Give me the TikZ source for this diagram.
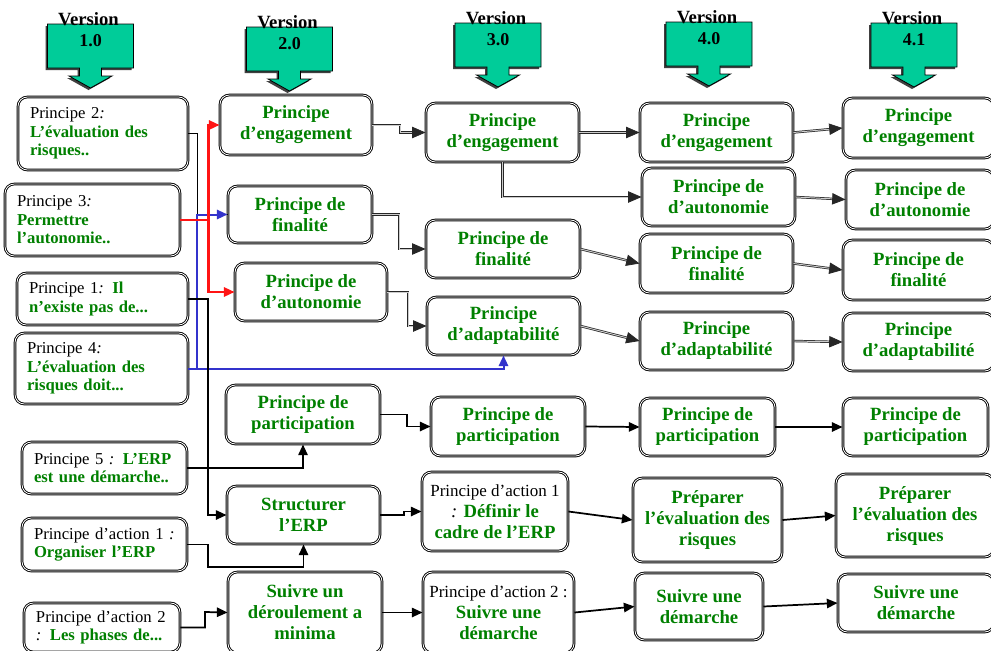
\documentclass[tikz,border=0pt]{standalone}
\usepackage{fontspec}
\setmainfont{Liberation Serif}
\usetikzlibrary{arrows.meta}

\definecolor{callout}{RGB}{0,204,153}
\definecolor{tgreen}{RGB}{0,128,0}
\definecolor{rline}{RGB}{255,20,20}
\definecolor{bline}{RGB}{51,51,204}

% black, upright, medium-weight part of a label
\newcommand\blk[1]{{\color{black}\mdseries #1}}

% box given by its corners in pixel units: name, style, x1, y1, x2, y2, text
\newcommand\place[7]{%
  \node[#2, minimum width={(#5-#3)*0.75pt}, minimum height={(#6-#4)*0.75pt}]
    (#1) at ({(#3+#5)/2},{(#4+#6)/2}) {#7};}
% same, with left-aligned text and a fixed padding
\newcommand\lplace[7]{%
  \node[#2, minimum width={(#5-#3)*0.75pt}, minimum height={(#6-#4)*0.75pt},
        text width={(#5-#3-24)*0.75pt}]
    (#1) at ({(#3+#5)/2},{(#4+#6)/2}) {#7};}

\tikzset{
  every node/.style={inner sep=0pt},
  box/.style={draw=black, line width=0.7pt, double=white, double distance=0.6pt,
    rounded corners=7pt, fill=white, align=center, text=tgreen,
    font=\fontsize{14}{15.75}\selectfont\bfseries},
  lbox/.style={box, align=left, font=\fontsize{12.5}{13.9}\selectfont\bfseries},
  tip/.style={-{Triangle[length=8pt,width=7pt]}},
  conn/.style={draw=black, line width=1.3pt, tip},
  plain/.style={draw=black, line width=1.3pt},
  dconn/.style={draw=black!85, line width=0.55pt, double=black!20, double distance=0.7pt,
    -{Triangle[length=10pt,width=8.5pt]}},
  rconn/.style={draw=rline, line width=1.6pt, tip},
  bconn/.style={draw=bline, line width=1.5pt, tip},
  vshape/.style={fill=callout, draw=black, line width=0.6pt},
  vshadow/.style={fill=black!75},
  vtitle/.style={font=\fontsize{14}{15}\selectfont\bfseries, anchor=base},
  vnum/.style={font=\fontsize{13.5}{15}\selectfont\bfseries, anchor=base},
}

\begin{document}
\begin{tikzpicture}[x=0.75pt, y=-0.75pt]
\fill[white] (0,0) rectangle (991,650);
\useasboundingbox (0,0) rectangle (991,650);

% ---------- version callouts ----------
\foreach \cx/\tp/\lab/\nm in {90.5/24/1.0/va, 289.5/27/2.0/vb, 498/23/3.0/vc, 709/22/4.0/vd, 914/23/4.1/ve}{
  \foreach \dx/\dy/\sty in {-2/2/vshadow, 0/0/vshape}{
    \path[\sty] ({\cx-43+\dx},{\tp+\dy}) -- ({\cx+43+\dx},{\tp+\dy}) -- ({\cx+43+\dx},{\tp+44+\dy})
      -- ({\cx+11+\dx},{\tp+44+\dy}) -- ({\cx+11+\dx},{\tp+52+\dy}) -- ({\cx+21.5+\dx},{\tp+52+\dy})
      -- ({\cx+\dx},{\tp+64+\dy}) -- ({\cx-21.5+\dx},{\tp+52+\dy}) -- ({\cx-11+\dx},{\tp+52+\dy})
      -- ({\cx-11+\dx},{\tp+44+\dy}) -- ({\cx-43+\dx},{\tp+44+\dy}) -- cycle;
  }
  \node[vtitle] (\nm t) at ({\cx-2},{\tp+1}) {Version};
  \node[vnum] (\nm n) at (\cx,{\tp+22}) {\lab};
}

% ---------- version 1.0 ----------
\lplace{p2}{lbox}{18}{97}{188}{170}{\blk{Principe 2\textit{:}}\\ L’évaluation des\\ risques..}
\lplace{p3}{lbox}{5}{184}{180}{256}{\blk{Principe 3\textit{:}}\\ Permettre\\ l’autonomie..}
\lplace{p1}{lbox}{17}{273}{188}{325}{\blk{Principe 1\textit{:}} Il\\ n’existe pas de...}
\lplace{p4}{lbox}{15}{333}{188}{404}{\blk{Principe 4\textit{:}}\\ L’évaluation des\\ risques doit...}
\lplace{p5}{lbox}{22}{442}{187}{494}{\blk{Principe 5 \textit{:}} L’ERP\\ est une démarche..}
\lplace{pa1}{lbox}{22}{518}{187}{571}{\blk{Principe d’action 1 \textit{:}}\\ Organiser l’ERP}
\lplace{pa2}{lbox}{24}{603}{180}{652}{\blk{Principe d’action 2}\\ \blk{\textit{:}} Les phases de...}

% ---------- version 2.0 ----------
\place{eng2}{box}{220}{95}{372}{155}{Principe\\ d’engagement}
\place{fin2}{box}{228}{186}{372}{243}{Principe de\\ finalité}
\place{aut2}{box}{235}{263}{387}{321}{Principe de\\ d’autonomie}
\place{par2}{box}{226}{385}{380}{444}{Principe de\\ participation}
\place{str2}{box}{227}{486}{380}{544}{Structurer\\ l’ERP}
\place{sui2}{box}{228}{572}{382}{653}{Suivre un\\ déroulement a\\ minima}

% ---------- version 3.0 ----------
\place{eng3}{box}{426}{103}{579}{162}{Principe\\ d’engagement}
\place{fin3}{box}{426}{220}{580}{278}{Principe de\\ finalité}
\place{ada3}{box}{427}{297}{580}{355}{Principe\\ d’adaptabilité}
\place{par3}{box}{431}{397}{585}{456}{Principe de\\ participation}
\place{act13}{box}{422}{472}{568}{551}{\blk{\fontsize{12.75}{15.75}\selectfont Principe d’action 1}\\ \blk{\textit{:}} Définir le\\ cadre de l’ERP}
\place{act23}{box}{423}{572}{574}{653}{\blk{\fontsize{12.75}{15.75}\selectfont Principe d’action 2 :}\\ Suivre une\\ démarche}

% ---------- version 4.0 ----------
\place{eng4}{box}{640}{103}{793}{162}{Principe\\ d’engagement}
\place{aut4}{box}{642}{168}{795}{226}{Principe de\\ d’autonomie}
\place{fin4}{box}{640}{234}{793}{293}{Principe de\\ finalité}
\place{ada4}{box}{640}{312}{793}{370}{Principe\\ d’adaptabilité}
\place{par4}{box}{640}{398}{775}{456}{Principe de\\ participation}
\place{pre4}{box}{633}{478}{782}{562}{Préparer\\ l’évaluation des\\ risques}
\place{sui4}{box}{635}{573}{763}{640}{Suivre une\\ démarche}

% ---------- version 4.1 ----------
\place{eng5}{box}{843}{98}{994}{158}{Principe\\ d’engagement}
\place{aut5}{box}{846}{170}{994}{229}{Principe de\\ d’autonomie}
\place{fin5}{box}{843}{240}{994}{300}{Principe de\\ finalité}
\place{ada5}{box}{843}{313}{994}{371}{Principe\\ d’adaptabilité}
\place{par5}{box}{843}{398}{988}{456}{Principe de\\ participation}
\place{pre5}{box}{836}{474}{994}{557}{Préparer\\ l’évaluation des\\ risques}
\place{sui5}{box}{838}{574}{994}{632}{Suivre une\\ démarche}

% ---------- links from version 1.0 ----------
\draw[plain] (p2.east) -- ++(9,0) |- (fin2.west);
\draw[bconn] (p4.east) -- ++(9,0) |- (fin2.west);
\draw[bconn] (p4.east) -| (ada3.south);
\draw[rconn] (p3.east) -- ++(28,0) |- (eng2.west);
\draw[rconn] (p3.east) -- ++(28,0) |- (aut2.west);
\draw[conn] (p1.east) -| (208,515) -- (str2.west);
\draw[conn] (p5.east) -| (par2.south);
\draw[conn] (pa1.east) -| (208,567) -| (str2.south);
\draw[conn] (pa2.east) -| (205,612) -- (sui2.west);

% ---------- links 2.0 -> 3.0 ----------
\draw[dconn] (eng2.east) -| (400,132.5) -- (eng3.west);
\draw[dconn] (fin2.east) -| (399,249) -- (fin3.west);
\draw[dconn] (aut2.east) -| (408,326) -- (ada3.west);
\draw[conn] (par2.east) -| (407,426.5) -- (par3.west);
\draw[conn] (str2.east) -| (404,511.5) -- (act13.west);
\draw[conn] (sui2.east) -- (act23.west);

% ---------- links 3.0 -> 4.0 ----------
\draw[dconn] (eng3.east) -- (eng4.west);
\draw[dconn] (eng3.south) |- (aut4.west);
\draw[dconn] (fin3.east) -- (fin4.west);
\draw[dconn] (ada3.east) -- (ada4.west);
\draw[conn] (par3.east) -- (par4.west);
\draw[conn] (act13.east) -- (pre4.west);
\draw[conn] (act23.east) -- (sui4.west);

% ---------- links 4.0 -> 4.1 ----------
\draw[dconn] (eng4.east) -- (eng5.west);
\draw[dconn] (aut4.east) -- (aut5.west);
\draw[dconn] (fin4.east) -- (fin5.west);
\draw[dconn] (ada4.east) -- (ada5.west);
\draw[conn] (par4.east) -- (par5.west);
\draw[conn] (pre4.east) -- (pre5.west);
\draw[conn] (sui4.east) -- (sui5.west);
\end{tikzpicture}
\end{document}
